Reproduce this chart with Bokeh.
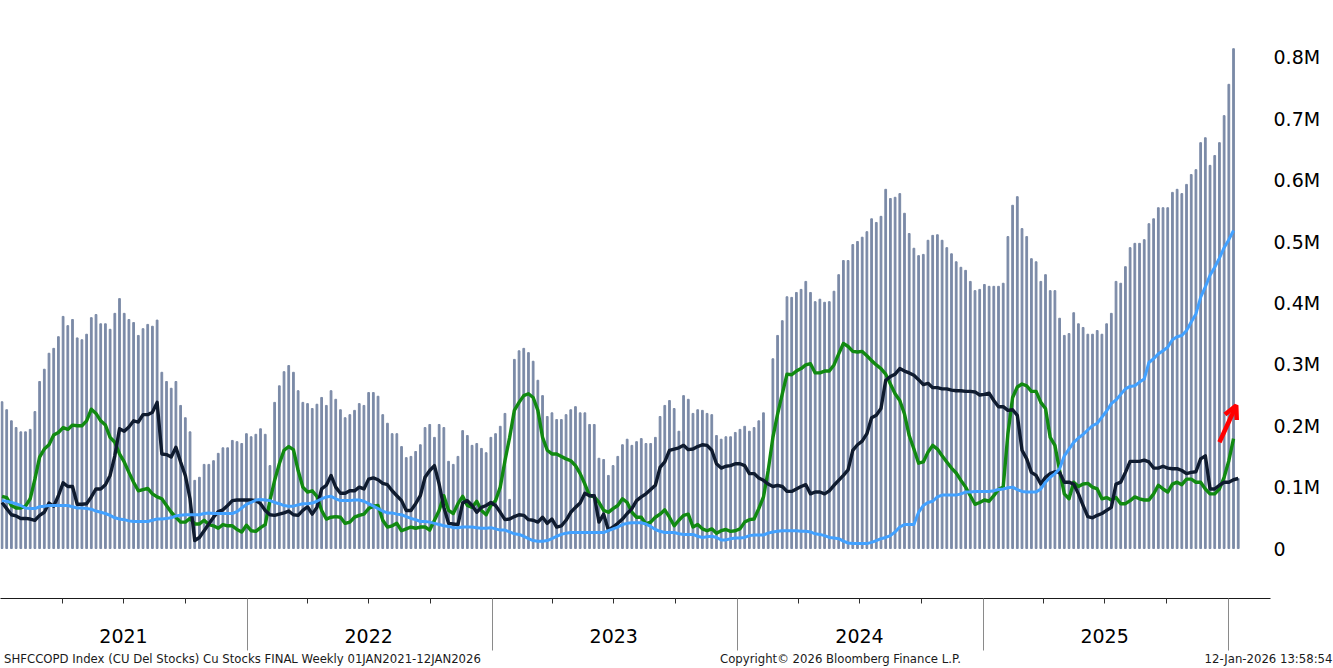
import pandas as pd
from bokeh.plotting import figure
from bokeh.models import (Range1d, LinearAxis, FixedTicker, Arrow, OpenHead, ColumnDataSource)
from bokeh.embed import file_html
from bokeh.resources import INLINE

# ---------------- data (thousand tonnes), weekly ----------------
n_weeks = 264
week_dates = pd.date_range("2021-01-01", periods=n_weeks, freq="7D")

# total copper stocks (bars)
total_stocks = [
    239, 226, 208, 197, 190, 190, 194, 223, 272, 292, 318, 326, 345, 378, 363, 373, 343, 340, 349, 376,
    381, 366, 366, 357, 383, 407, 383, 373, 368, 347, 358, 365, 362, 372, 287, 272, 261, 272, 233, 213,
    190, 111, 116, 137, 137, 143, 155, 164, 164, 176, 174, 171, 187,
    182, 186, 195, 186, 135, 238, 265, 288, 298, 287, 257, 238, 236, 228, 235, 246, 233, 257, 243, 226,
    213, 218, 225, 236, 233, 254, 254, 248, 218, 204, 187, 187, 166, 148, 150, 158, 169, 197, 202, 181,
    202, 197, 142, 137, 150, 192, 184, 168, 171, 163, 156, 181,
    187, 199, 220, 80, 308, 322, 326, 319, 305, 274, 249, 215, 221, 210, 210, 218, 226, 231, 221, 221,
    202, 202, 147, 145, 119, 135, 150, 169, 178, 168, 174, 179, 171, 171, 181, 215, 233, 241, 228, 191,
    249, 243, 220, 226, 225, 220, 218, 184, 178, 182, 182, 189,
    194, 199, 191, 197, 208, 221, 130, 309, 347, 371, 410, 409, 417, 422, 435, 417, 402, 406, 401, 402,
    419, 446, 469, 469, 495, 500, 507, 516, 537, 531, 541, 585, 570, 572, 578, 546, 513, 489, 477, 479,
    502, 510, 511, 502, 490, 480, 467, 458, 453, 435, 420, 422,
    430, 427, 427, 427, 432, 508, 559, 573, 521, 508, 472, 467, 435, 446, 420, 420, 375, 347, 350, 384,
    366, 360, 349, 349, 355, 349, 366, 383, 435, 432, 459, 490, 497, 497, 503, 529, 537, 555, 555, 555,
    580, 585, 578, 593, 609, 617, 661, 669, 624, 640, 661, 705, 756, 814, 114,
]

# green line
shfe_stocks = [
    85, 83, 70, 66, 66, 69, 81, 113, 149, 162, 169, 185, 189, 197, 194, 201, 200, 200, 208, 227,
    220, 208, 201, 181, 173, 154, 141, 124, 108, 94, 96, 98, 89, 84, 81, 70, 59, 51, 43, 43,
    49, 40, 40, 46, 39, 37, 33, 39, 37, 37, 31, 27, 38,
    29, 28, 34, 39, 78, 111, 138, 160, 166, 161, 127, 100, 92, 94, 85, 62, 48, 51, 52, 51,
    41, 43, 51, 54, 56, 65, 69, 70, 46, 35, 37, 41, 29, 32, 35, 33, 35, 35, 30, 46,
    62, 86, 62, 57, 73, 85, 70, 67, 77, 62, 55, 70,
    78, 100, 143, 181, 225, 238, 249, 252, 246, 225, 181, 160, 154, 154, 150, 146, 143, 135, 122, 105,
    86, 84, 75, 62, 59, 65, 70, 81, 75, 59, 51, 51, 40, 43, 51, 56, 63, 51, 37, 46,
    54, 56, 35, 39, 32, 29, 32, 25, 29, 31, 28, 29,
    32, 43, 47, 48, 65, 84, 127, 181, 219, 252, 284, 283, 289, 293, 299, 301, 286, 286, 289, 289,
    299, 317, 334, 329, 321, 320, 321, 314, 306, 299, 293, 284, 268, 252, 241, 219, 184, 162, 139, 141,
    157, 168, 162, 151, 141, 131, 123, 111, 100, 86, 72, 75,
    79, 77, 86, 96, 100, 187, 246, 263, 268, 265, 256, 256, 238, 228, 181, 168, 127, 89, 81, 108,
    101, 105, 106, 100, 97, 81, 83, 79, 83, 73, 73, 78, 84, 81, 79, 79, 89, 103, 97, 92,
    105, 108, 104, 113, 113, 108, 108, 97, 89, 89, 97, 116, 143, 179,
]

# dark navy line
lme_stocks = [
    75, 65, 55, 53, 49, 49, 48, 46, 54, 59, 74, 69, 86, 107, 101, 101, 72, 72, 73, 84,
    97, 97, 104, 119, 151, 195, 191, 198, 208, 206, 218, 218, 222, 238, 154, 153, 149, 165, 141, 119,
    81, 13, 18, 29, 40, 51, 60, 63, 70, 78, 79, 79, 79,
    79, 78, 73, 62, 55, 54, 56, 58, 61, 55, 54, 62, 68, 56, 67, 97, 103, 119, 100, 90,
    90, 94, 94, 100, 97, 113, 115, 112, 106, 104, 94, 86, 78, 62, 62, 73, 86, 116, 127, 135,
    105, 67, 41, 40, 39, 74, 78, 70, 59, 67, 70, 75,
    70, 59, 47, 48, 52, 55, 54, 47, 46, 43, 51, 41, 48, 35, 37, 46, 59, 67, 74, 90,
    86, 86, 43, 56, 30, 35, 41, 48, 57, 65, 78, 84, 89, 96, 103, 132, 141, 160, 162, 164,
    168, 161, 162, 166, 169, 168, 160, 138, 131, 134, 135, 138,
    138, 135, 122, 122, 115, 111, 105, 101, 103, 101, 93, 93, 97, 101, 104, 89, 92, 92, 89, 94,
    103, 111, 119, 128, 160, 169, 175, 187, 213, 217, 228, 274, 280, 284, 293, 289, 286, 282, 275, 267,
    269, 262, 262, 260, 260, 258, 257, 257, 256, 256, 255, 250,
    251, 253, 241, 231, 231, 225, 226, 217, 160, 146, 124, 119, 105, 116, 122, 125, 124, 108, 108, 105,
    89, 70, 52, 50, 54, 57, 62, 67, 105, 108, 124, 142, 142, 142, 144, 141, 131, 131, 134, 131,
    130, 130, 127, 122, 124, 125, 146, 151, 97, 97, 103, 108, 108, 112, 114,
]

# light blue line
comex_stocks = [
    78, 77, 75, 73, 70, 66, 65, 65, 68, 69, 70, 70, 70, 70, 70, 68, 66, 66, 65, 64,
    61, 59, 57, 54, 50, 48, 47, 45, 44, 44, 44, 44, 46, 48, 48, 49, 50, 53, 54, 55,
    55, 55, 55, 57, 58, 57, 57, 57, 57, 57, 60, 66, 72,
    75, 79, 80, 79, 78, 75, 73, 70, 69, 69, 71, 73, 73, 74, 77, 81, 84, 85, 81, 78,
    78, 78, 79, 79, 77, 73, 69, 65, 61, 58, 58, 56, 55, 52, 49, 47, 44, 44, 43, 41,
    39, 37, 36, 34, 34, 35, 35, 35, 34, 33, 33, 34,
    32, 30, 30, 27, 24, 23, 20, 16, 13, 12, 12, 13, 16, 20, 23, 25, 26, 26, 26, 26,
    26, 26, 26, 26, 29, 32, 35, 39, 41, 42, 42, 42, 40, 36, 31, 28, 26, 26, 26, 24,
    23, 23, 23, 20, 18, 19, 20, 18, 14, 14, 16, 17,
    17, 18, 21, 22, 22, 22, 25, 27, 28, 29, 29, 29, 29, 28, 28, 27, 24, 23, 21, 18,
    17, 16, 12, 9, 8, 8, 8, 8, 10, 13, 16, 18, 21, 27, 35, 39, 39, 39, 59, 70,
    75, 77, 84, 87, 87, 87, 87, 89, 92, 92, 93, 93,
    93, 93, 94, 96, 97, 99, 100, 96, 93, 92, 92, 92, 97, 108, 116, 122, 130, 151, 162, 173,
    180, 186, 193, 200, 204, 214, 224, 236, 242, 251, 260, 264, 265, 271, 276, 303, 309, 317, 322, 328,
    340, 345, 347, 355, 369, 382, 409, 426, 445, 458, 473, 490, 503, 518,
]

y_ticks = [0, 100, 200, 300, 400, 500, 600, 700, 800]
y_tick_labels = ["0", "0.1M", "0.2M", "0.3M", "0.4M", "0.5M", "0.6M", "0.7M", "0.8M"]
years = [2021, 2022, 2023, 2024, 2025]
year_labels = ["2021", "2022", "2023", "2024", "2025"]
year_bounds = ["2022-01-01", "2023-01-01", "2024-01-01", "2025-01-01", "2026-01-01"]
arrow_start = ("2025-12-19", 173)
arrow_end = ("2026-01-13", 233)

footer_texts = ["SHFCCOPD Index (CU Del Stocks) Cu Stocks FINAL Weekly 01JAN2021-12JAN2026",
                "Copyright\u00a9 2026 Bloomberg Finance L.P.",
                "12-Jan-2026 13:58:54"]
footer_centers_px = [242, 840, 1268]   # horizontal centres of the footer texts (layout)

# ---------------- styling ----------------
BAR_COLOR = "#7b8aa7"
GREEN = "#118a11"
NAVY = "#0f1b2f"
BLUE = "#42a1ff"
FONT = "DejaVu Sans"


def ms(d):
    return int(pd.Timestamp(d).value // 10**6)


px_per_day = 0.6715
frame_w = 1270
x_start = pd.Timestamp("2021-01-01") - pd.Timedelta(days=1.5 / px_per_day)
x_end = x_start + pd.Timedelta(days=frame_w / px_per_day)
x0_ms = x_start.value / 1e6


def px_to_ms(px):
    return int(x0_ms + px / px_per_day * 86400000)


p = figure(width=1333, height=668,
           x_range=Range1d(x0_ms, x_end.value / 1e6),
           y_range=Range1d(-81.4, 892.5),
           x_axis_location=None, y_axis_location=None,
           toolbar_location=None, output_backend="svg",
           min_border_left=0, min_border_right=1333 - frame_w, min_border_top=0, min_border_bottom=70)
p.outline_line_color = None
p.background_fill_color = "white"
p.border_fill_color = "white"
p.xgrid.visible = False
p.ygrid.visible = False

bar_src = ColumnDataSource(dict(date=week_dates, total=total_stocks))
p.vbar(x="date", top="total", bottom=0, width=2.6 * 86400000, color=BAR_COLOR, source=bar_src)

p.line(x=week_dates[:len(shfe_stocks)], y=shfe_stocks, line_color=GREEN, line_width=3.4, line_join="round")
p.line(x=week_dates[:len(lme_stocks)], y=lme_stocks, line_color=NAVY, line_width=3.4, line_join="round")
p.line(x=week_dates[:len(comex_stocks)], y=comex_stocks, line_color=BLUE, line_width=3, line_join="round")

# right value axis
yaxis = LinearAxis(ticker=FixedTicker(ticks=y_ticks),
                   major_label_overrides=dict(zip(y_ticks, y_tick_labels)),
                   major_tick_out=0, major_tick_in=0, minor_tick_out=0, minor_tick_in=0,
                   axis_line_color=None, major_tick_line_color=None, minor_tick_line_color=None,
                   major_label_standoff=3,
                   major_label_text_font=FONT, major_label_text_font_size="19px",
                   major_label_text_color="#000000")
p.add_layout(yaxis, "right")

# bottom time axis: quarter ticks (year label at mid-year) + long year separators
quarter_ticks, quarter_labels = [], {}
for y, lab in zip(years, year_labels):
    for m in ("04", "07", "10"):
        t = ms(f"{y}-{m}-01")
        quarter_ticks.append(t)
        quarter_labels[t] = lab if m == "07" else ""

xaxis = LinearAxis(ticker=FixedTicker(ticks=quarter_ticks, minor_ticks=[ms(d) for d in year_bounds]),
                   major_label_overrides=quarter_labels,
                   major_tick_out=5, major_tick_in=0, minor_tick_out=52, minor_tick_in=0,
                   major_tick_line_color="#303030", major_tick_line_width=1,
                   minor_tick_line_color="#8a8a8a", minor_tick_line_width=1,
                   axis_line_color="#1a1a1a", axis_line_width=1.2,
                   major_label_standoff=-22,
                   major_label_text_font=FONT, major_label_text_font_size="19px",
                   major_label_text_color="#000000")
p.add_layout(xaxis, "below")

# footer line (source / copyright / timestamp) as a tick-less axis under the time axis
footer_ticks = [px_to_ms(c) for c in footer_centers_px]
footer_axis = LinearAxis(ticker=FixedTicker(ticks=footer_ticks),
                         major_label_overrides=dict(zip(footer_ticks, footer_texts)),
                         axis_line_color=None, major_tick_line_color=None, minor_tick_line_color=None,
                         major_tick_out=0, major_tick_in=0, minor_tick_out=0, minor_tick_in=0,
                         major_label_standoff=6,
                         major_label_text_font=FONT, major_label_text_font_size="11.7px",
                         major_label_text_color="#1a1a1a")
p.add_layout(footer_axis, "below")

p.add_layout(Arrow(x_start=ms(arrow_start[0]), y_start=arrow_start[1],
                   x_end=ms(arrow_end[0]), y_end=arrow_end[1],
                   line_color="#ff0000", line_width=4.5,
                   end=OpenHead(size=13, line_color="#ff0000", line_width=4.5)))

open("out.html", "w").write(file_html(p, INLINE))
